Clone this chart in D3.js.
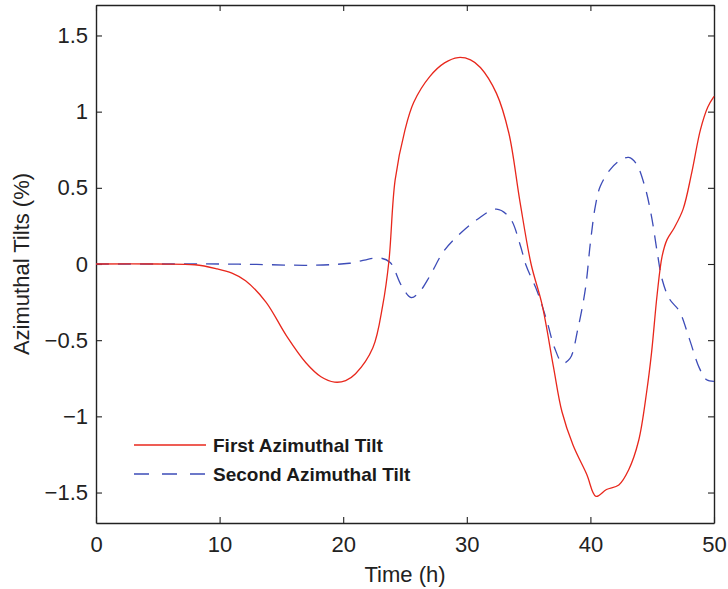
<!DOCTYPE html>
<html>
<head>
<meta charset="utf-8">
<script src="https://cdn.jsdelivr.net/npm/d3@7"></script>
<style>
  body { margin: 0; background: #fff; }
  svg { display: block; font-family: "Liberation Sans", Arial, sans-serif; }
</style>
</head>
<body>
<svg id="chart" width="728" height="589"></svg>
<script>
// first azimuthal tilt (red, solid)
var firstTime = [0, 5, 8, 9.7, 11, 12.1, 13.75, 15.4, 17, 18.2, 19.3, 20.2, 21, 22.4, 23.2, 23.7, 24.2, 25, 25.7, 27, 28.2, 29.3, 30.3, 31.1, 32.4, 33.4, 34.3, 35.2, 36.1, 37, 37.7, 38.6, 39.7, 40.45, 41.3, 42.3, 43.1, 43.9, 44.55, 44.95, 45.4, 45.8, 46.2, 46.8, 47.5, 48.2, 48.9, 49.5, 50];
var firstTilt = [0, 0, -0.005, -0.03, -0.06, -0.11, -0.25, -0.47, -0.65, -0.74, -0.775, -0.765, -0.72, -0.55, -0.27, 0.02, 0.55, 0.88, 1.06, 1.23, 1.32, 1.355, 1.34, 1.29, 1.12, 0.86, 0.41, 0.0, -0.27, -0.67, -0.97, -1.19, -1.38, -1.525, -1.48, -1.45, -1.35, -1.16, -0.84, -0.58, -0.2, 0.05, 0.16, 0.24, 0.36, 0.6, 0.88, 1.03, 1.1];

// second azimuthal tilt (blue, dashed)
var secondTime = [0, 5, 10, 13, 17.5, 20.5, 22.9, 23.8, 24.7, 25.5, 26.2, 27, 28.1, 29.2, 30.8, 32.4, 33.5, 34.3, 34.8, 35.7, 36.5, 37.1, 37.75, 38.35, 39, 39.6, 40, 40.4, 40.8, 41.6, 42.4, 43.1, 43.7, 44.4, 44.95, 45.4, 45.8, 46.4, 47.2, 48, 48.8, 49.4, 50];
var secondTilt = [0, 0, 0, -0.003, -0.008, 0.005, 0.04, 0.01, -0.14, -0.22, -0.18, -0.08, 0.08, 0.18, 0.29, 0.36, 0.3, 0.13, -0.01, -0.18, -0.38, -0.55, -0.65, -0.62, -0.42, -0.16, 0.14, 0.38, 0.51, 0.62, 0.68, 0.70, 0.66, 0.51, 0.31, 0.08, -0.10, -0.23, -0.31, -0.49, -0.68, -0.76, -0.77];

var xTicks = [0, 10, 20, 30, 40, 50];
var yTicks = [-1.5, -1, -0.5, 0, 0.5, 1, 1.5];
var legendNames = ["First Azimuthal Tilt", "Second Azimuthal Tilt"];

var svg = d3.select("#chart"),
	width = +svg.attr("width"),
	height = +svg.attr("height");
var margin = {top: 5, right: 14, bottom: 66, left: 96};
var w = width - margin.left - margin.right,
	h = height - margin.top - margin.bottom;

var x = d3.scaleLinear().domain([0, 50]).range([0, w]);
var y = d3.scaleLinear().domain([-1.7, 1.7]).range([h, 0]);

var g = svg.append("g").attr("transform", "translate(" + margin.left + "," + margin.top + ")");

function fmt(d) { return String(d).replace("-", "\u2212"); }

// axes, ticks pointing inward like matlab
var axColor = "#222";
var axBottom = g.append("g").attr("transform", "translate(0," + h + ")")
	.call(d3.axisBottom(x).tickValues(xTicks).tickFormat(fmt).tickSizeInner(-6).tickSizeOuter(0).tickPadding(13));
var axLeft = g.append("g")
	.call(d3.axisLeft(y).tickValues(yTicks).tickFormat(fmt).tickSizeInner(-6).tickSizeOuter(0).tickPadding(8));
var axTop = g.append("g")
	.call(d3.axisTop(x).tickValues(xTicks).tickFormat("").tickSizeInner(-6).tickSizeOuter(0));
var axRight = g.append("g").attr("transform", "translate(" + w + ",0)")
	.call(d3.axisRight(y).tickValues(yTicks).tickFormat("").tickSizeInner(-6).tickSizeOuter(0));

[axBottom, axLeft, axTop, axRight].forEach(function(a){
	a.select(".domain").attr("stroke", axColor).attr("stroke-width", 1.4);
	a.selectAll(".tick line").attr("stroke", axColor).attr("stroke-width", 1.1);
	a.selectAll(".tick text").attr("fill", "#222").style("font-size", "22px").style("font-family", "Liberation Sans, Arial, sans-serif");
});

// series
var line = d3.line()
	.x(function(d){ return x(d[0]); })
	.y(function(d){ return y(d[1]); })
	.curve(d3.curveCatmullRom.alpha(0.5));

var firstData = d3.zip(firstTime, firstTilt);
var secondData = d3.zip(secondTime, secondTilt);

g.append("path").datum(secondData)
	.attr("d", line)
	.attr("fill", "none")
	.attr("stroke", "#3d4cb8")
	.attr("stroke-width", 1.3)
	.attr("stroke-dasharray", "13,9");

g.append("path").datum(firstData)
	.attr("d", line)
	.attr("fill", "none")
	.attr("stroke", "#e8271c")
	.attr("stroke-width", 1.3);

// legend
var legend = svg.append("g");
var legendRows = [
	{name: legendNames[0], color: "#e8271c", dash: null, y: 445},
	{name: legendNames[1], color: "#3d4cb8", dash: "15,13", y: 474}
];
legendRows.forEach(function(r){
	legend.append("line")
		.attr("x1", 134).attr("x2", 206)
		.attr("y1", r.y).attr("y2", r.y)
		.attr("stroke", r.color).attr("stroke-width", 1.3)
		.attr("stroke-dasharray", r.dash);
	legend.append("text")
		.attr("x", 213).attr("y", r.y + 7)
		.attr("fill", "#1a1a1a")
		.style("font-size", "19px").style("font-weight", "bold")
		.text(r.name);
});

// axis titles
svg.append("text")
	.attr("x", margin.left + w / 2).attr("y", 582)
	.attr("text-anchor", "middle")
	.attr("fill", "#222")
	.style("font-size", "22px")
	.text("Time (h)");

svg.append("text")
	.attr("transform", "translate(29," + (margin.top + h / 2) + ") rotate(-90)")
	.attr("text-anchor", "middle")
	.attr("fill", "#222")
	.style("font-size", "22px")
	.text("Azimuthal Tilts (%)");
</script>
</body>
</html>
